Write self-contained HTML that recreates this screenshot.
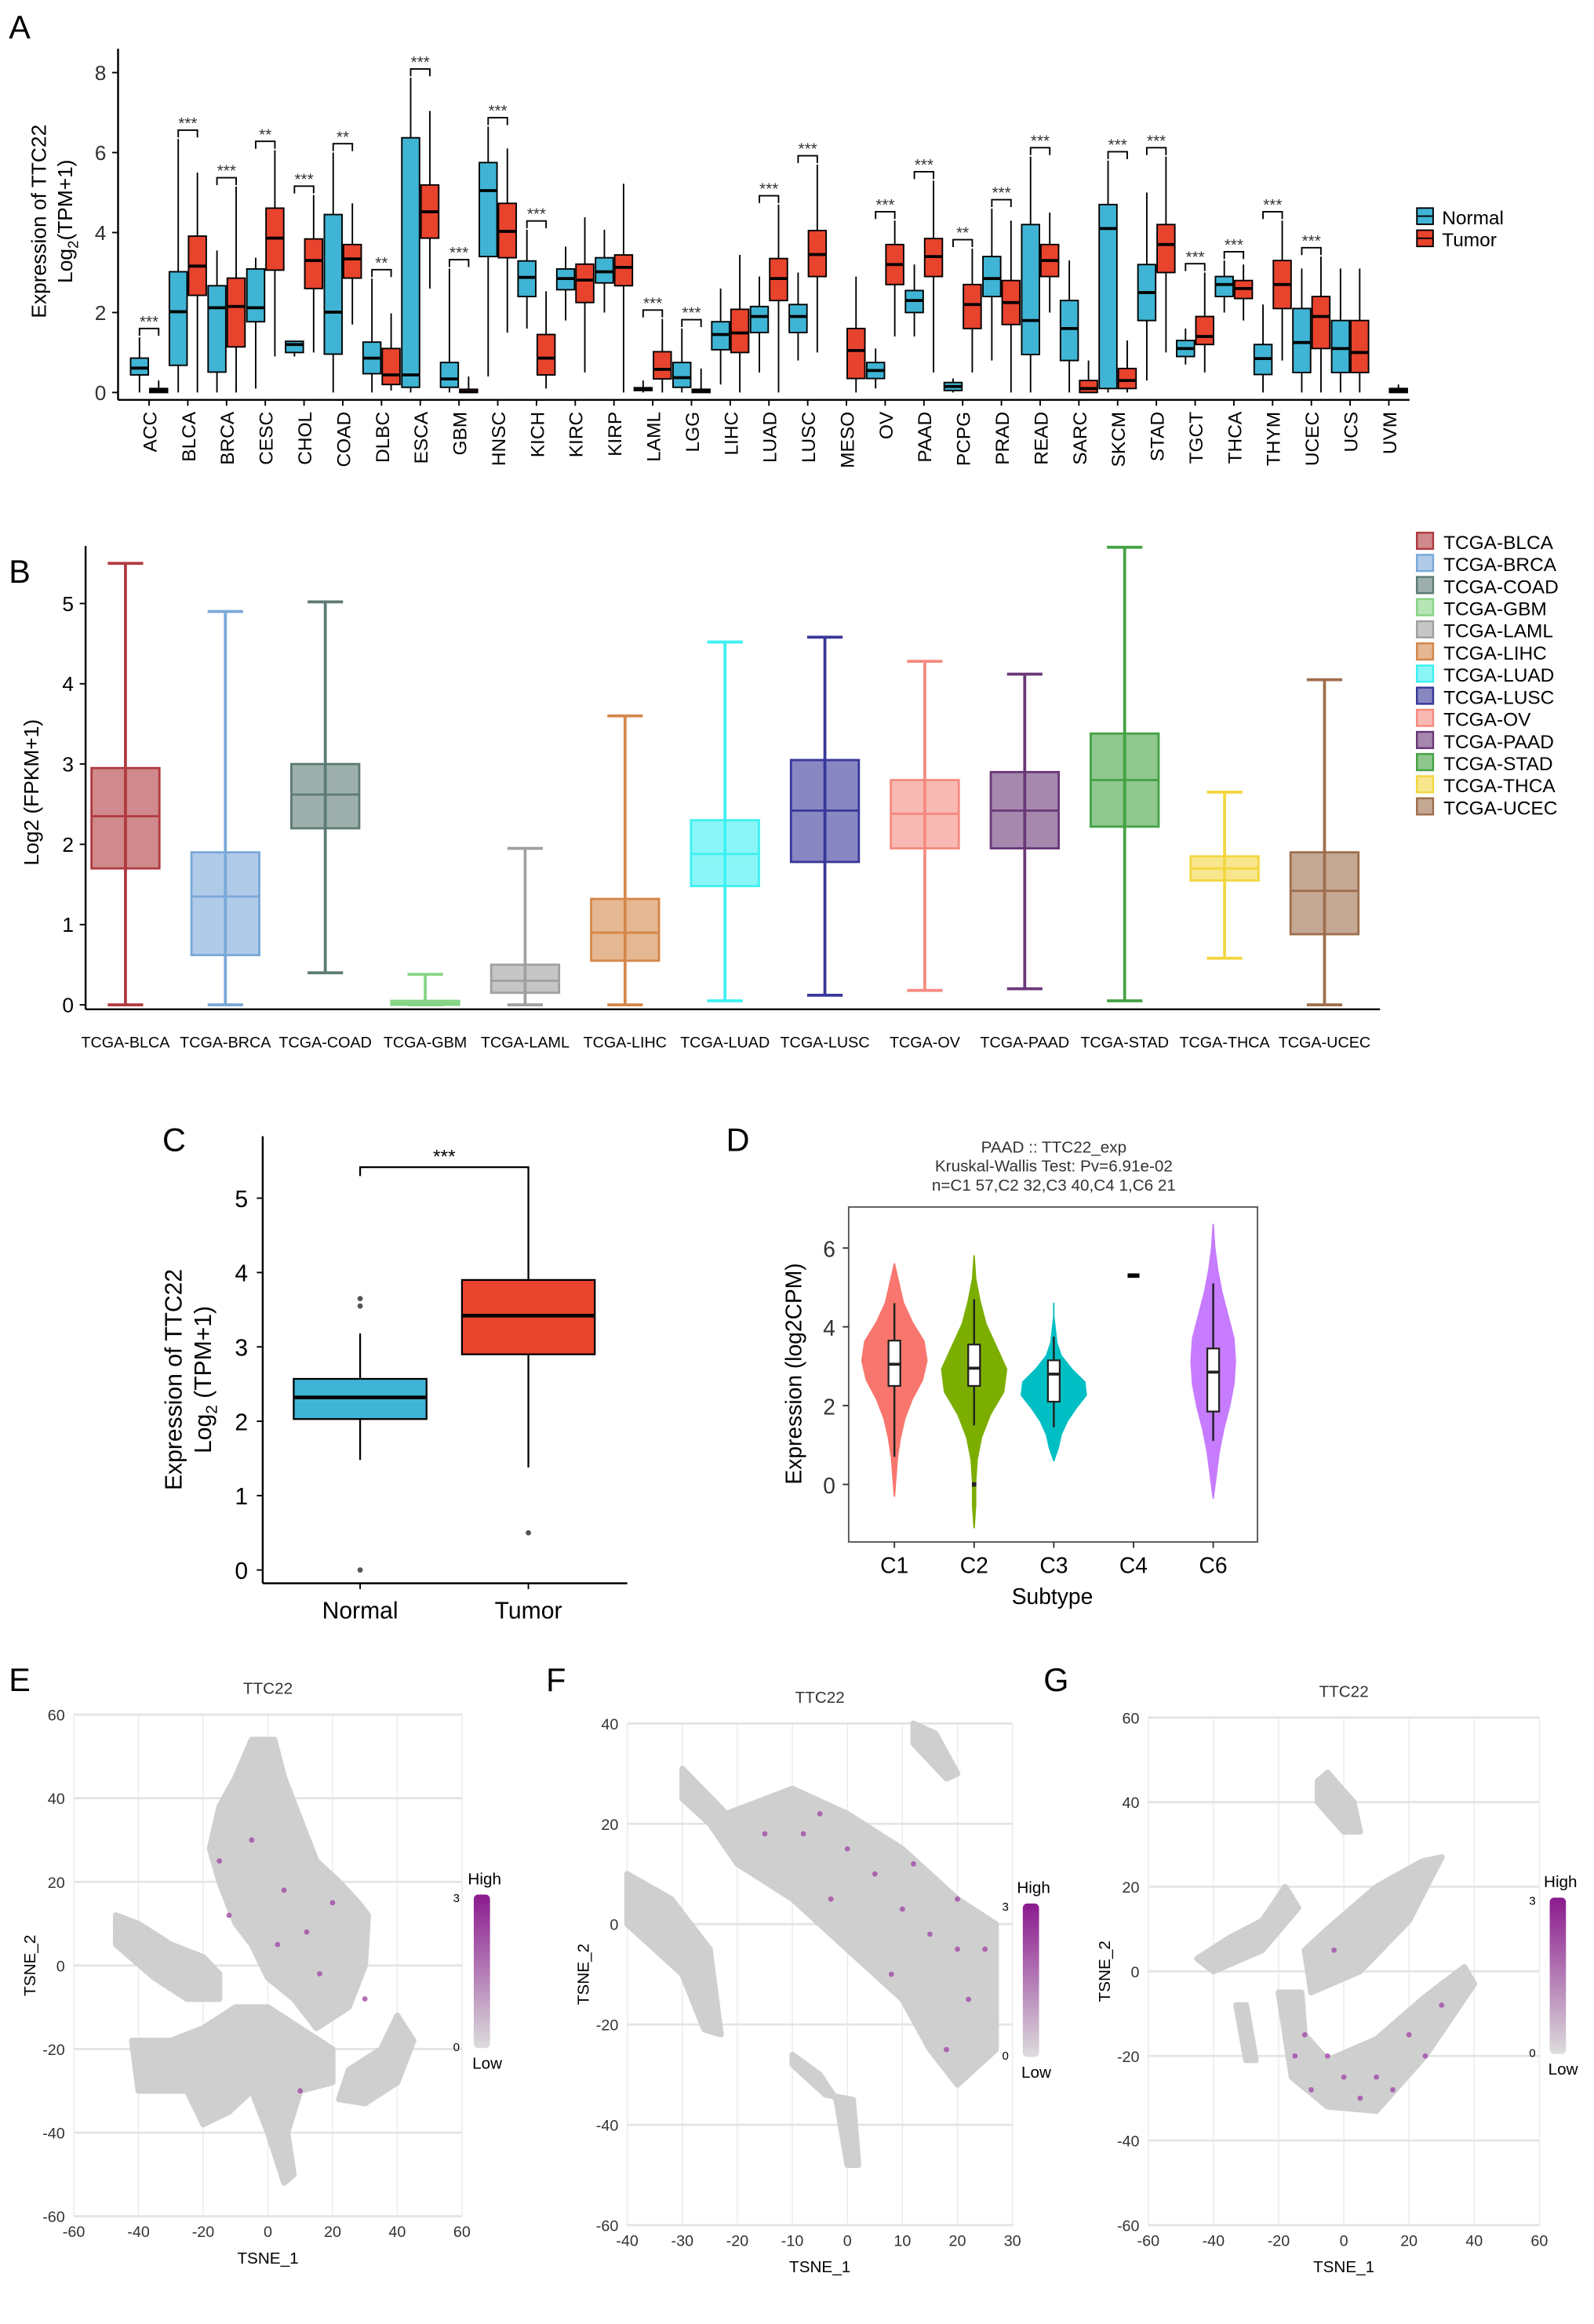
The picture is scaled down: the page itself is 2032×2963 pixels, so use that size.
<!DOCTYPE html>
<html><head><meta charset="utf-8"><style>
html,body{margin:0;padding:0;background:#fff}
svg{display:block;font-family:"Liberation Sans",Arial,sans-serif}
</style></head><body>
<svg id="fig" width="2032" height="2963" viewBox="0 0 1080 1575" preserveAspectRatio="none" xmlns="http://www.w3.org/2000/svg">
<g id="gA"></g>
<g id="gB"></g>
<g id="gC"></g>
<g id="gD"></g>
<g id="gE"></g>
<g id="gF"></g>
<g id="gG"></g>
</svg>
<script>
// ---------- Panel A data ----------
const aCats=["ACC","BLCA","BRCA","CESC","CHOL","COAD","DLBC","ESCA","GBM","HNSC","KICH","KIRC","KIRP","LAML","LGG","LIHC","LUAD","LUSC","MESO","OV","PAAD","PCPG","PRAD","READ","SARC","SKCM","STAD","TGCT","THCA","THYM","UCEC","UCS","UVM"];
// [lo,q1,med,q3,hi] ; null = absent
const aNormal=[[0,0.44,0.61,0.86,1.38],[0,0.68,2.02,3.02,6.34],[0,0.51,2.12,2.67,3.55],[0.1,1.77,2.12,3.09,3.37],[0.9,1.0,1.2,1.28,1.28],[0,0.96,2.01,4.45,6.0],[0,0.47,0.86,1.26,2.85],[0,0.13,0.44,6.37,7.87],[0,0.13,0.34,0.75,3.1],[0.4,3.4,5.05,5.75,6.65],[1.6,2.4,2.88,3.29,4.07],[1.8,2.57,2.85,3.09,3.65],[2.0,2.74,3.02,3.37,4.07],[0,0.05,0.08,0.12,0.3],[0,0.13,0.37,0.75,1.6],[0.2,1.07,1.45,1.77,2.6],[0.5,1.5,1.9,2.15,2.9],[0.8,1.5,1.9,2.2,3.0],null,[0.1,0.35,0.55,0.75,1.1],[1.4,2.0,2.3,2.55,3.2],[0,0.05,0.15,0.25,0.35],[0.8,2.4,2.85,3.4,4.6],[0,0.95,1.8,4.2,5.9],[0,0.8,1.6,2.3,3.3],[0,0.1,4.1,4.7,5.8],[0.3,1.8,2.5,3.2,5.0],[0.7,0.9,1.1,1.3,1.6],[2.0,2.4,2.7,2.9,3.3],[0,0.45,0.85,1.2,2.2],[0,0.5,1.25,2.1,3.1],[0,0.5,1.1,1.8,3.1],null];
const aTumor=[[0,0,0.05,0.1,0.3],[0,2.43,3.16,3.91,5.5],[0,1.14,2.15,2.86,5.15],[0.9,3.06,3.86,4.61,6.06],[1.0,2.6,3.3,3.84,4.94],[1.7,2.86,3.34,3.7,4.73],[0.05,0.2,0.44,1.1,1.98],[2.6,3.86,4.52,5.19,7.04],[0,0,0.02,0.08,0.4],[1.5,3.37,4.03,4.73,6.1],[0.1,0.44,0.86,1.45,2.53],[0.5,2.25,2.81,3.21,4.38],[0,2.67,3.13,3.44,5.22],[0,0.34,0.58,1.02,1.84],[0,0,0.03,0.08,0.6],[0,1.0,1.49,2.08,3.44],[0,2.3,2.85,3.35,4.7],[1.0,2.9,3.45,4.05,5.7],[0,0.35,1.05,1.6,2.9],[1.4,2.7,3.2,3.7,4.3],[0.5,2.9,3.4,3.85,5.3],[0.5,1.6,2.2,2.7,3.6],[0,1.7,2.25,2.8,4.3],[2.0,2.9,3.3,3.7,4.5],[0,0,0.1,0.3,0.8],[0,0.1,0.3,0.6,1.3],[1.0,3.0,3.7,4.2,5.9],[0.5,1.2,1.4,1.9,3.0],[1.8,2.35,2.6,2.8,3.2],[0.8,2.1,2.7,3.3,4.3],[0,1.1,1.9,2.4,3.4],[0,0.5,1.0,1.8,3.1],[0,0,0.05,0.1,0.2]];
const aSig=["***","***","***","**","***","**","**","***","***","***","***","","","***","***","","***","***","","***","***","**","***","***","","***","***","***","***","***","***","",""];
const aTicks=[0,2,4,6,8];
// ---------- Panel B data ----------
const bCats=["TCGA-BLCA","TCGA-BRCA","TCGA-COAD","TCGA-GBM","TCGA-LAML","TCGA-LIHC","TCGA-LUAD","TCGA-LUSC","TCGA-OV","TCGA-PAAD","TCGA-STAD","TCGA-THCA","TCGA-UCEC"];
const bStats=[[0,1.7,2.35,2.95,5.5],[0,0.62,1.35,1.9,4.9],[0.4,2.2,2.62,3.0,5.02],[0,0,0.02,0.05,0.38],[0,0.15,0.3,0.5,1.95],[0,0.55,0.9,1.32,3.6],[0.05,1.48,1.88,2.3,4.52],[0.12,1.78,2.42,3.05,4.58],[0.18,1.95,2.38,2.8,4.28],[0.2,1.95,2.42,2.9,4.12],[0.05,2.22,2.8,3.38,5.7],[0.58,1.55,1.7,1.85,2.65],[0,0.88,1.42,1.9,4.05]];
const bColors=["#b03a40","#7aa8d8","#5d7b74","#86d486","#a0a0a0","#d4874a","#3ef0f2","#38379a","#f58a80","#6a3878","#44a244","#f2d640","#9e6e4c"];
const bTicks=[0,1,2,3,4,5];
// ---------- Panel C data ----------
const cCats=["Normal","Tumor"];
const cStats=[[1.48,2.03,2.32,2.57,3.18],[1.38,2.9,3.42,3.9,5.3]];
const cOutN=[3.55,3.65,0];
const cOutT=[0.5];
const cTicks=[0,1,2,3,4,5];
// ---------- Panel D data ----------
const dCats=["C1","C2","C3","C4","C6"];
const dColors=["#f8766d","#7cae00","#00bfc4","#000000","#c77cff"];
const dRange=[[-0.3,5.6],[-1.1,5.8],[0.6,4.6],[5.25,5.3],[-0.35,6.6]];
const dDens=[[0,1,2,4,7,12,19,22,20,12,6,3,0],[0,1,1,2,5,11,20,22,15,8,4,1,0],[0,3,5,9,15,22,21,12,5,2,1,0,0],[1,1,1,1,1,1,1,1,1,1,1,1,1],[0,2,4,7,11,14,15,14,10,6,3,1,0]];
const dBox=[[0.7,2.5,3.05,3.65,4.6],[1.5,2.5,2.95,3.55,4.7],[1.45,2.1,2.8,3.15,3.75],null,[1.1,1.85,2.85,3.45,5.1]];
const dTicks=[0,2,4,6];

const NS="http://www.w3.org/2000/svg";
function mk(parent,tag,attrs,txt){const e=document.createElementNS(NS,tag);for(const k in attrs)e.setAttribute(k,attrs[k]);if(txt!==undefined)e.textContent=txt;parent.appendChild(e);return e;}

// ===== Panel A =====
(function(){
 const g=document.getElementById('gA');
 const yA=v=>266-v*27.1, xA=i=>101+i*26.25;
 let t=mk(g,'text',{x:6,y:26,'font-size':22},'A');
 let ax=mk(g,'line',{x1:80,y1:33,x2:80,y2:271,stroke:'#000','stroke-width':1.3});
 let xx=mk(g,'line',{x1:80,y1:271,x2:955,y2:271,stroke:'#000','stroke-width':1.3});
 aTicks.forEach(v=>{mk(g,'line',{x1:76,y1:yA(v),x2:80,y2:yA(v),stroke:'#000'});
  const tl=mk(g,'text',{x:72,y:yA(v)+5,'font-size':14,'text-anchor':'end',fill:'#333'},v);
  });
 let yt=mk(g,'text',{transform:'translate(31,150) rotate(-90)','font-size':14,'text-anchor':'middle'},'Expression of TTC22');
 let yt2=mk(g,'text',{transform:'translate(49,150) rotate(-90)','font-size':14,'text-anchor':'middle'});yt2.innerHTML='Log<tspan font-size="10" dy="4">2</tspan><tspan dy="-4">(TPM+1)</tspan>';
 function box(s,cx,col,name){
  const w=12,b=mk(g,'g',{});
  mk(b,'line',{x1:cx,y1:yA(s[4]),x2:cx,y2:yA(s[0]),stroke:'#000','stroke-width':1});
  mk(b,'rect',{x:cx-w/2,y:yA(s[3]),width:w,height:Math.max(1.5,yA(s[1])-yA(s[3])),fill:col,stroke:'#000','stroke-width':1});
  mk(b,'line',{x1:cx-w/2,y1:yA(s[2]),x2:cx+w/2,y2:yA(s[2]),stroke:'#000','stroke-width':2});
 }
 aCats.forEach((c,i)=>{
  const cx=xA(i);
  mk(g,'line',{x1:cx,y1:271,x2:cx,y2:275,stroke:'#000'});
  const l=mk(g,'text',{transform:`translate(${cx+5},279) rotate(-90)`,'font-size':13,'text-anchor':'end'},c);
  
  if(aNormal[i]) box(aNormal[i],cx-6.5,'#40b4d4','box-normal');
  if(aTumor[i]) box(aTumor[i],cx+6.5,'#e8432d','box-tumor');
  if(aSig[i]){
   const m=Math.max(aNormal[i]?aNormal[i][4]:0,aTumor[i]?aTumor[i][4]:0);
   const by=yA(m)-6;
   const p=mk(g,'path',{d:`M${cx-6.5},${by+5}V${by}H${cx+6.5}V${by+5}`,fill:'none',stroke:'#000','stroke-width':1});
   
   const s=mk(g,'text',{x:cx,y:by-1,'font-size':11,'text-anchor':'middle',fill:'#333'},aSig[i]);
   
  }
 });
 const lg=mk(g,'g',{});
 [['Normal','#40b4d4'],['Tumor','#e8432d']].forEach((d,k)=>{
  const y=147+k*15;mk(lg,'rect',{x:960,y:y-6,width:11,height:11,fill:d[1],stroke:'#000'});
  mk(lg,'line',{x1:960,y1:y-0.5,x2:971,y2:y-0.5,stroke:'#000'});
  const e=mk(lg,'text',{x:977,y:y+5,'font-size':13},d[0]);
 });
})();

// ===== Panel B =====
(function(){
 const g=document.getElementById('gB');
 const yB=v=>681-v*54.4, xB=i=>85+i*67.7;
 let t=mk(g,'text',{x:6,y:395,'font-size':22},'B');
 let ax=mk(g,'line',{x1:58,y1:370,x2:58,y2:684,stroke:'#000','stroke-width':1.3});
 let xx=mk(g,'line',{x1:58,y1:684,x2:935,y2:684,stroke:'#000','stroke-width':1.3});
 bTicks.forEach(v=>{mk(g,'line',{x1:54,y1:yB(v),x2:58,y2:yB(v),stroke:'#000'});
  const tl=mk(g,'text',{x:50,y:yB(v)+5,'font-size':14,'text-anchor':'end'},v);});
 let yt=mk(g,'text',{transform:'translate(26,537) rotate(-90)','font-size':14,'text-anchor':'middle'},'Log2 (FPKM+1)');
 bCats.forEach((c,i)=>{
  const cx=xB(i),s=bStats[i],col=bColors[i],w=46;
  const b=mk(g,'g',{});
  mk(b,'line',{x1:cx,y1:yB(s[4]),x2:cx,y2:yB(s[0]),stroke:col,'stroke-width':2});
  [s[0],s[4]].forEach(v=>mk(b,'line',{x1:cx-12,y1:yB(v),x2:cx+12,y2:yB(v),stroke:col,'stroke-width':2}));
  mk(b,'rect',{x:cx-w/2,y:yB(s[3]),width:w,height:Math.max(2,yB(s[1])-yB(s[3])),fill:col,'fill-opacity':0.6,stroke:col,'stroke-width':1.5});
  mk(b,'line',{x1:cx-w/2,y1:yB(s[2]),x2:cx+w/2,y2:yB(s[2]),stroke:col,'stroke-width':1.5});
  const l=mk(g,'text',{x:cx,y:710,'font-size':10.5,'text-anchor':'middle'},c);
  const ly=367+i*15;
  const lg=mk(g,'g',{});
  mk(lg,'rect',{x:960,y:ly-6,width:11,height:11,fill:col,'fill-opacity':0.6,stroke:col,'stroke-width':1.3});
  mk(lg,'text',{x:978,y:ly+5,'font-size':13},c);
 });
})();

// ===== Panel C =====
(function(){
 const g=document.getElementById('gC');
 const yC=v=>1064-v*50.4, xC=i=>244+i*114;
 let t=mk(g,'text',{x:110,y:780,'font-size':22},'C');
 let ax=mk(g,'line',{x1:178,y1:770,x2:178,y2:1073,stroke:'#000','stroke-width':1.3});
 let xx=mk(g,'line',{x1:178,y1:1073,x2:425,y2:1073,stroke:'#000','stroke-width':1.3});
 cTicks.forEach(v=>{mk(g,'line',{x1:174,y1:yC(v),x2:178,y2:yC(v),stroke:'#000'});
  const tl=mk(g,'text',{x:168,y:yC(v)+6,'font-size':16,'text-anchor':'end'},v);});
 let yt=mk(g,'text',{transform:'translate(123,935) rotate(-90)','font-size':16,'text-anchor':'middle'},'Expression of TTC22');
 let yt2=mk(g,'text',{transform:'translate(143,935) rotate(-90)','font-size':16,'text-anchor':'middle'});yt2.innerHTML='Log<tspan font-size="11" dy="4">2</tspan><tspan dy="-4"> (TPM+1)</tspan>';
 const cols=['#40b4d4','#e8432d'],outs=[cOutN,cOutT];
 cCats.forEach((c,i)=>{
  const cx=xC(i),s=cStats[i],w=90;
  const b=mk(g,'g',{});
  mk(b,'line',{x1:cx,y1:yC(s[4]),x2:cx,y2:yC(s[0]),stroke:'#000','stroke-width':1.2});
  mk(b,'rect',{x:cx-w/2,y:yC(s[3]),width:w,height:yC(s[1])-yC(s[3]),fill:cols[i],stroke:'#000','stroke-width':1.2});
  mk(b,'line',{x1:cx-w/2,y1:yC(s[2]),x2:cx+w/2,y2:yC(s[2]),stroke:'#000','stroke-width':2.5});
  outs[i].forEach(v=>{const o=mk(g,'circle',{cx:cx,cy:yC(v),r:1.8,fill:'#555'});});
  mk(g,'line',{x1:cx,y1:1073,x2:cx,y2:1077,stroke:'#000'});
  const l=mk(g,'text',{x:cx,y:1097,'font-size':16,'text-anchor':'middle'},c);
 });
 const p=mk(g,'path',{d:'M244,797V791H358V797',fill:'none',stroke:'#000','stroke-width':1.2});
 const s=mk(g,'text',{x:301,y:788,'font-size':13,'text-anchor':'middle'},'***');
})();

// ===== Panel D =====
(function(){
 const g=document.getElementById('gD');
 const yD=v=>1006-v*26.7, xD=i=>606+i*54;
 let t=mk(g,'text',{x:492,y:780,'font-size':22},'D');
 ['PAAD :: TTC22_exp','Kruskal-Wallis Test: Pv=6.91e-02','n=C1 57,C2 32,C3 40,C4 1,C6 21'].forEach((s,k)=>{
  const e=mk(g,'text',{x:714,y:781+k*13,'font-size':11,'text-anchor':'middle',fill:'#333'},s);});
 let fr=mk(g,'rect',{x:575,y:818,width:277,height:227,fill:'none',stroke:'#555','stroke-width':1});
 dTicks.forEach(v=>{mk(g,'line',{x1:571,y1:yD(v),x2:575,y2:yD(v),stroke:'#333'});
  const tl=mk(g,'text',{x:566,y:yD(v)+6,'font-size':15,'text-anchor':'end',fill:'#333'},v);});
 let yt=mk(g,'text',{transform:'translate(543,931) rotate(-90)','font-size':15,'text-anchor':'middle'},'Expression (log2CPM)');
 let xt=mk(g,'text',{x:713,y:1087,'font-size':15,'text-anchor':'middle'},'Subtype');
 dCats.forEach((c,i)=>{
  const cx=xD(i);
  mk(g,'line',{x1:cx,y1:1045,x2:cx,y2:1049,stroke:'#333'});
  const l=mk(g,'text',{x:cx,y:1066,'font-size':15,'text-anchor':'middle'},c);
  const r=dRange[i],d=dDens[i],n=d.length;
  if(i===3){const m=mk(g,'rect',{x:cx-4,y:yD(r[1])-1.5,width:8,height:3,fill:'#000'});return;}
  let L=[],R=[];
  for(let k=0;k<n;k++){const v=r[0]+(r[1]-r[0])*k/(n-1);R.push([cx+d[k],yD(v)]);L.push([cx-d[k],yD(v)]);}
  const pts=R.concat(L.reverse());
  const v=mk(g,'path',{d:'M'+pts.map(p=>p[0].toFixed(1)+','+p[1].toFixed(1)).join('L')+'Z',fill:dColors[i],stroke:dColors[i],'stroke-linejoin':'round','stroke-width':1});
  
  const s=dBox[i];
  if(s){mk(g,'line',{x1:cx,y1:yD(s[4]),x2:cx,y2:yD(s[0]),stroke:'#222','stroke-width':1.3});
   const b=mk(g,'rect',{x:cx-4,y:yD(s[3]),width:8,height:yD(s[1])-yD(s[3]),fill:'#fff',stroke:'#222','stroke-width':1.2});
   mk(g,'line',{x1:cx-4,y1:yD(s[2]),x2:cx+4,y2:yD(s[2]),stroke:'#222','stroke-width':2});}
 });
 mk(g,'rect',{x:xD(1)-1.5,y:yD(0)-1.5,width:3,height:3,fill:'#222'});
})();

// ===== t-SNE panels =====
const eBlobs=[[[-10,45],[-5,54],[2,54],[5,45],[10,35],[15,25],[22,20],[28,15],[31,12],[30,0],[25,-10],[15,-15],[8,-8],[0,-3],[-5,5],[-10,10],[-15,20],[-18,28],[-15,38]],[[-47,12],[-40,10],[-30,5],[-20,2],[-15,-2],[-15,-8],[-25,-8],[-35,-3],[-47,5]],[[-42,-18],[-30,-18],[-20,-15],[-10,-10],[0,-10],[10,-15],[20,-20],[20,-28],[10,-30],[6,-40],[8,-50],[5,-52],[0,-40],[-5,-30],[-12,-35],[-20,-38],[-25,-30],[-40,-30]],[[40,-12],[45,-18],[40,-28],[30,-33],[22,-32],[25,-25],[35,-20]]];
const ePurple=[[-12,12],[5,18],[20,15],[-5,30],[12,8],[30,-8],[10,-30],[-15,25],[3,5],[16,-2]];
const fBlobs=[[[12,40],[16,38],[20,30],[18,29],[12,36]],[[-30,31],[-22,22],[-10,27],[0,22],[10,15],[20,5],[27,0],[27,-25],[20,-32],[15,-25],[10,-15],[0,-5],[-10,5],[-20,12],[-25,20],[-30,25]],[[-40,10],[-32,5],[-25,-5],[-23,-22],[-26,-21],[-30,-10],[-40,0]],[[-10,-26],[-5,-30],[-2,-35],[0,-48],[2,-48],[1,-35],[-4,-34],[-10,-28]]];
const fPurple=[[-8,18],[0,15],[5,10],[10,3],[15,-2],[20,-5],[22,-15],[-3,5],[8,-10],[25,-5],[18,-25],[-15,18],[12,12],[-5,22],[20,5]];
const gBlobs=[[[-8,45],[-5,47],[3,40],[5,33],[0,33],[-8,40]],[[-45,3],[-35,8],[-25,12],[-18,20],[-14,15],[-25,5],[-40,0]],[[-10,-5],[5,0],[20,12],[30,27],[24,26],[10,20],[-5,10],[-12,5]],[[-20,-5],[-16,-25],[-5,-32],[10,-33],[25,-20],[40,-3],[37,1],[25,-6],[10,-16],[-5,-21],[-12,-15],[-13,-5]],[[-33,-8],[-30,-8],[-27,-21],[-30,-21]]];
const gPurple=[[-15,-20],[-10,-28],[0,-25],[10,-25],[20,-15],[30,-8],[-5,-20],[15,-28],[-3,5],[-12,-15],[25,-20],[5,-30]];

function tsne(id,lab,fr,xr,yr,xt,yt,blobs,purple,bar){
 const g=document.getElementById(id);
 const X=v=>fr[0]+(v-xr[0])/(xr[1]-xr[0])*(fr[2]-fr[0]);
 const Y=v=>fr[3]-(v-yr[0])/(yr[1]-yr[0])*(fr[3]-fr[1]);
 let t=mk(g,'text',{x:lab[1],y:lab[2],'font-size':22},lab[0]);
 let tt=mk(g,'text',{x:(fr[0]+fr[2])/2,y:fr[1]-14,'font-size':11,'text-anchor':'middle',fill:'#333'},'TTC22');
 xt.forEach(v=>{const gl=mk(g,'line',{x1:X(v),y1:fr[1],x2:X(v),y2:fr[3],stroke:'#ececec','stroke-width':0.8});
  const l=mk(g,'text',{x:X(v),y:fr[3]+14,'font-size':10.5,'text-anchor':'middle',fill:'#333'},v);});
 yt.forEach(v=>{const gl=mk(g,'line',{x1:fr[0],y1:Y(v),x2:fr[2],y2:Y(v),stroke:'#e4e4e4','stroke-width':1.5});
  const l=mk(g,'text',{x:fr[0]-6,y:Y(v)+4,'font-size':10.5,'text-anchor':'end',fill:'#333'},v);});
 let xa=mk(g,'text',{x:(fr[0]+fr[2])/2,y:fr[3]+32,'font-size':11,'text-anchor':'middle'},'TSNE_1');
 let ya=mk(g,'text',{transform:`translate(${fr[0]-26},${(fr[1]+fr[3])/2}) rotate(-90)`,'font-size':11,'text-anchor':'middle'},'TSNE_2');
 blobs.forEach(b=>{const p=mk(g,'path',{d:'M'+b.map(q=>X(q[0]).toFixed(1)+','+Y(q[1]).toFixed(1)).join('L')+'Z',fill:'#cfcfcf',stroke:'#cfcfcf','stroke-width':4,'stroke-linejoin':'round'});});
 purple.forEach(q=>{const c=mk(g,'circle',{cx:X(q[0]),cy:Y(q[1]),r:1.8,fill:'#a04aa8','fill-opacity':0.8});});
 const cb=mk(g,'g',{});
 const gid='grad'+id;
 const df=mk(cb,'defs',{});const lg=mk(df,'linearGradient',{id:gid,x1:0,y1:0,x2:0,y2:1});
 mk(lg,'stop',{offset:0,'stop-color':'#8b1a8e'});mk(lg,'stop',{offset:1,'stop-color':'#dcdcdc'});
 mk(cb,'rect',{x:bar[0],y:bar[1],width:11,height:bar[2],rx:3,fill:`url(#${gid})`});
 mk(cb,'text',{x:bar[0]-4,y:bar[1]-7,'font-size':11},'High');
 mk(cb,'text',{x:bar[0]-1,y:bar[1]+bar[2]+14,'font-size':11},'Low');
 mk(cb,'text',{x:bar[0]-14,y:bar[1]+5,'font-size':8},'3');
 mk(cb,'text',{x:bar[0]-14,y:bar[1]+bar[2]+2,'font-size':8},'0');
}
tsne('gE',['E',6,1146],[50,1162,313,1502],[-60,60],[-60,60],[-60,-40,-20,0,20,40,60],[-60,-40,-20,0,20,40,60],eBlobs,ePurple,[321,1284,104]);
tsne('gF',['F',370,1146],[425,1168,686,1508],[-40,30],[-60,40],[-40,-30,-20,-10,0,10,20,30],[-60,-40,-20,0,20,40],fBlobs,fPurple,[693,1290,104]);
tsne('gG',['G',707,1146],[778,1164,1043,1508],[-60,60],[-60,60],[-60,-40,-20,0,20,40,60],[-60,-40,-20,0,20,40,60],gBlobs,gPurple,[1050,1286,106]);
</script>
</body></html>
